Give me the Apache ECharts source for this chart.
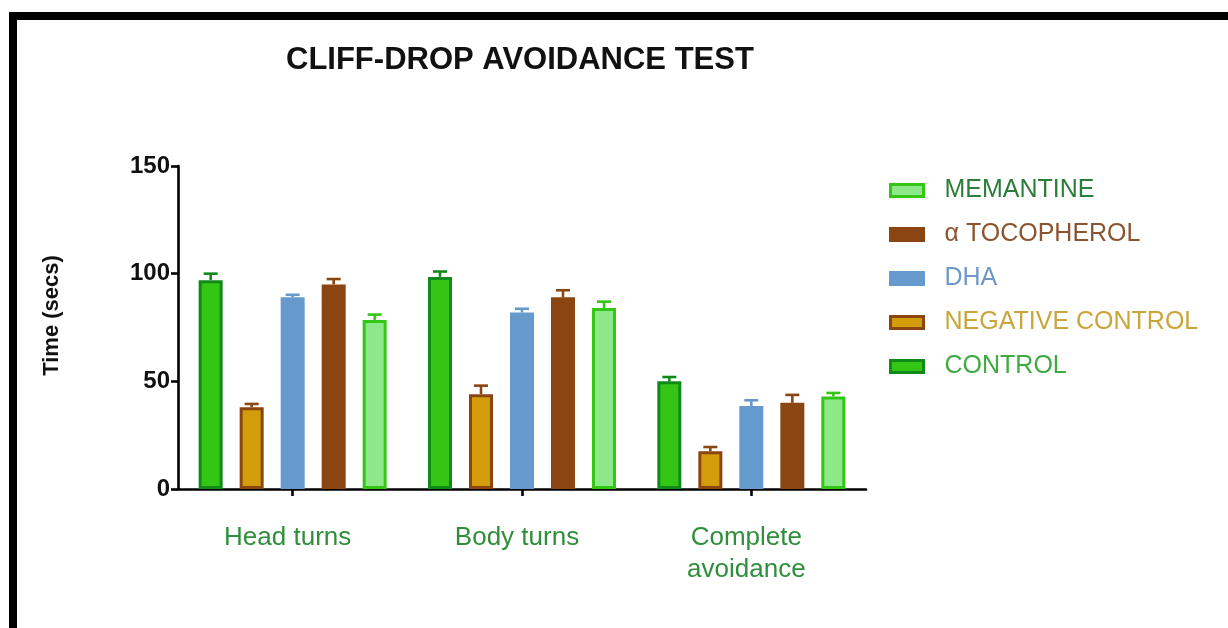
<!DOCTYPE html>
<html>
<head>
<meta charset="utf-8">
<script src="https://cdn.jsdelivr.net/npm/echarts@6/dist/echarts.min.js"></script>
<style>
  html, body { margin: 0; padding: 0; background: #fff; }
  #chart { width: 1228px; height: 628px; }
</style>
</head>
<body>
<div id="chart"></div>
<script>
// Cliff-drop avoidance test: mean time (secs) with upward SEM bars
const categories = ['Head turns', 'Body turns', 'Complete\navoidance'];
const seriesNames = ['CONTROL', 'NEGATIVE CONTROL', 'DHA', 'α TOCOPHEROL', 'MEMANTINE'];

const controlMean   = [97, 98.5, 50];
const negativeMean  = [38, 44, 17.5];
const dhaMean       = [89, 82, 38.5];
const tocopherolMean = [95, 89, 40];
const memantineMean = [78.5, 84, 43];

const controlSem    = [3, 2.5, 2];
const negativeSem   = [1.5, 4, 2];
const dhaSem        = [1.2, 1.7, 2.7];
const tocopherolSem = [2.5, 3.3, 3.7];
const memantineSem  = [2.5, 3, 1.6];

const yTicks = [0, 50, 100, 150];

const means = [controlMean, negativeMean, dhaMean, tocopherolMean, memantineMean];
const sems = [controlSem, negativeSem, dhaSem, tocopherolSem, memantineSem];

// fill, outline and legend text colour per group
const fills   = ['#33c614', '#d39c0a', '#6699cc', '#8b4513', '#8de88a'];
const borders = ['#118a1a', '#8b4513', '#6699cc', '#8b4513', '#33c614'];
const textColors = ['#3faa3f', '#c9a53a', '#6e98c8', '#8b5430', '#2d7d3a'];

const BAR_W = 24;
const BAR_STEP = 41;

const barSeries = seriesNames.map((name, i) => ({
  name: name,
  type: 'bar',
  barWidth: BAR_W,
  barGap: ((BAR_STEP - BAR_W) / BAR_W * 100) + '%',
  data: means[i],
  itemStyle: { color: fills[i], borderColor: borders[i], borderWidth: 3 },
  emphasis: { disabled: true },
  z: 2
}));

// error bar data: [category index, group index, mean, sem]
const errData = [];
means.forEach((arr, s) => arr.forEach((v, c) => errData.push([c, s, v, sems[s][c]])));

const errSeries = {
  name: 'SEM',
  type: 'custom',
  z: 1,
  data: errData,
  encode: { x: 0, y: 2 },
  renderItem: function (params, api) {
    const c = api.value(0), s = api.value(1), v = api.value(2), e = api.value(3);
    const base = api.coord([c, v]);
    const top = api.coord([c, v + e]);
    const n = seriesNames.length;
    const x = base[0] + (s - (n - 1) / 2) * BAR_STEP;
    const capHalf = 7;
    const style = { stroke: borders[s], lineWidth: 2.6, fill: null };
    return {
      type: 'group',
      children: [
        { type: 'line', shape: { x1: x, y1: base[1], x2: x, y2: top[1] }, style: style },
        { type: 'line', shape: { x1: x - capHalf, y1: top[1], x2: x + capHalf, y2: top[1] }, style: style }
      ]
    };
  }
};

const legendOrder = [4, 3, 2, 1, 0];

const chart = echarts.init(document.getElementById('chart'), null, { renderer: 'canvas' });
chart.setOption({
  backgroundColor: '#ffffff',
  animation: false,
  textStyle: { fontFamily: 'Liberation Sans, Arial, sans-serif' },
  title: {
    text: 'CLIFF-DROP AVOIDANCE TEST',
    left: 286,
    top: 45,
    padding: 0,
    textStyle: { fontSize: 31, fontWeight: 'bold', color: '#111', fontFamily: 'Liberation Sans, Arial, sans-serif' }
  },
  legend: {
    orient: 'vertical',
    left: 889,
    top: 178,
    itemWidth: 33,
    itemHeight: 12,
    itemGap: 19,
    padding: 0,
    selectedMode: false,
    itemStyle: { borderWidth: 3 },
    data: legendOrder.map(i => ({
      name: seriesNames[i],
      icon: 'rect',
      textStyle: { color: textColors[i] }
    })),
    textStyle: { fontSize: 25, lineHeight: 23, padding: [0, 0, 0, 16], fontFamily: 'Liberation Sans, Arial, sans-serif' }
  },
  grid: { left: 178, right: 362, top: 166, bottom: 139, containLabel: false },
  xAxis: {
    type: 'category',
    data: categories,
    axisLine: { lineStyle: { color: '#000', width: 2.6 } },
    axisTick: { show: true, interval: 0, alignWithLabel: true, length: 7, lineStyle: { color: '#000', width: 2.6 } },
    axisLabel: { color: '#2f8f3a', fontSize: 26, lineHeight: 32, margin: 33, interval: 0, padding: [0, 10, 0, 0] },
    splitLine: { show: false }
  },
  yAxis: {
    type: 'value',
    min: yTicks[0],
    max: yTicks[yTicks.length - 1],
    interval: yTicks[1] - yTicks[0],
    name: 'Time (secs)',
    nameLocation: 'middle',
    nameGap: 115,
    nameRotate: 90,
    nameTextStyle: { fontSize: 22, fontWeight: 'bold', color: '#111', padding: [0, 0, 0, 24] },
    axisLine: { show: true, lineStyle: { color: '#000', width: 2.6 } },
    axisTick: { show: true, length: 7, lineStyle: { color: '#000', width: 2.6 } },
    axisLabel: { color: '#111', fontSize: 24, fontWeight: 'bold', margin: 8 },
    splitLine: { show: false }
  },
  graphic: [
    { type: 'rect', shape: { x: 9, y: 12, width: 8, height: 640 }, style: { fill: '#000' }, silent: true },
    { type: 'rect', shape: { x: 9, y: 12, width: 1240, height: 8 }, style: { fill: '#000' }, silent: true }
  ],
  series: barSeries.concat([errSeries])
});
</script>
</body>
</html>
